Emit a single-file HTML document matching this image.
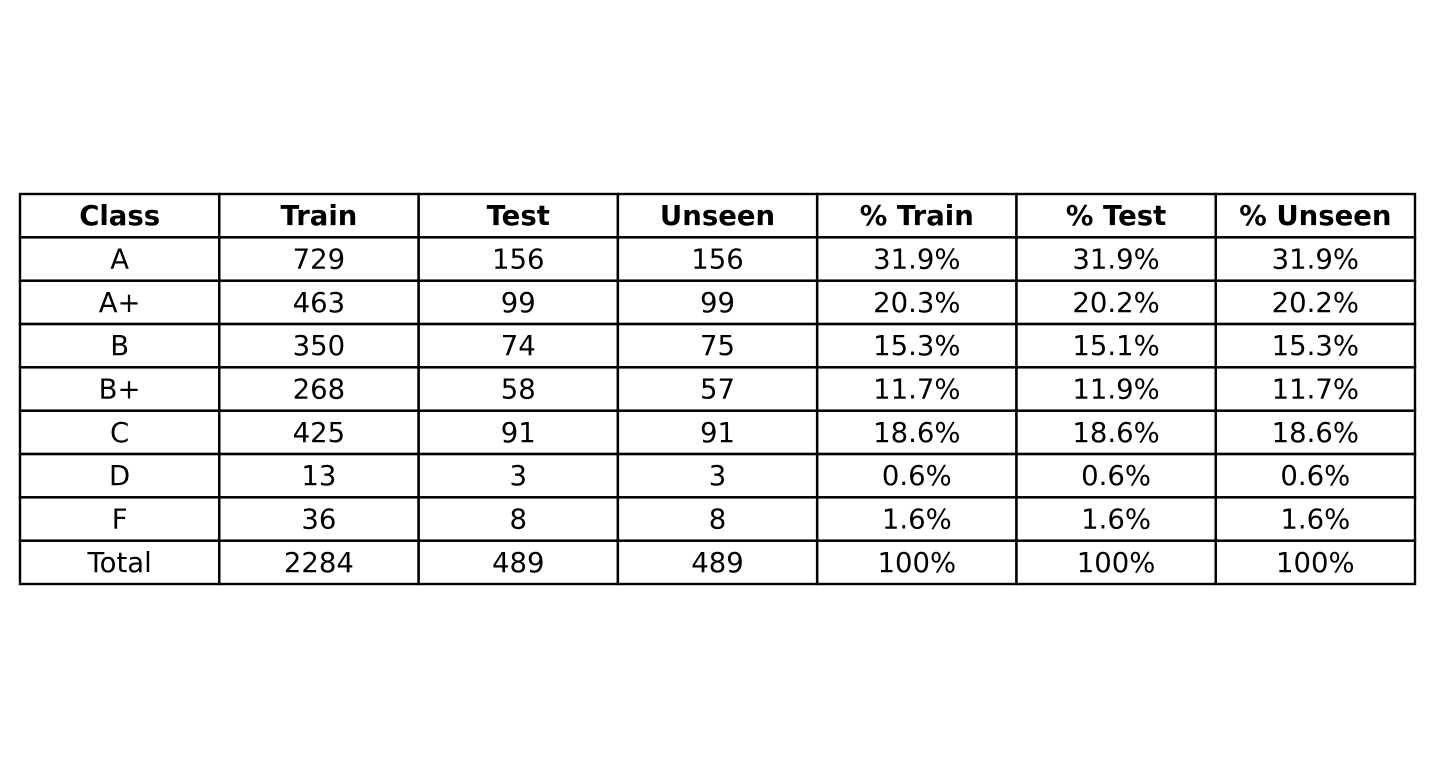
<!DOCTYPE html>
<html><head><meta charset="utf-8"><style>
html,body{margin:0;padding:0;background:#fff;}
svg text{font-family:"DejaVu Sans","Liberation Sans",sans-serif;font-size:27.5px;fill:#000;}
</style></head><body>
<svg id="chart" width="1434" height="779" xmlns="http://www.w3.org/2000/svg"></svg>
<script>
const headers = ["Class","Train","Test","Unseen","% Train","% Test","% Unseen"];
const classes = ["A","A+","B","B+","C","D","F","Total"];
const trainCounts = ["729","463","350","268","425","13","36","2284"];
const testCounts = ["156","99","74","58","91","3","8","489"];
const unseenCounts = ["156","99","75","57","91","3","8","489"];
const trainPct = ["31.9%","20.3%","15.3%","11.7%","18.6%","0.6%","1.6%","100%"];
const testPct = ["31.9%","20.2%","15.1%","11.9%","18.6%","0.6%","1.6%","100%"];
const unseenPct = ["31.9%","20.2%","15.3%","11.7%","18.6%","0.6%","1.6%","100%"];

(function () {
const svg = document.getElementById('chart');
const NS = "http://www.w3.org/2000/svg";
const tblLeft = 20, tblRight = 1415, tblTop = 194, tblBottom = 584;
const cols = headers.length, rows = classes.length + 1;
const cw = (tblRight - tblLeft) / cols, rh = (tblBottom - tblTop) / rows;
const columns = [classes, trainCounts, testCounts, unseenCounts, trainPct, testPct, unseenPct];

for (let r = 0; r < rows; r++) {
  for (let c = 0; c < cols; c++) {
    const x = tblLeft + c * cw, y = tblTop + r * rh;
    const rect = document.createElementNS(NS, 'rect');
    rect.setAttribute('x', x); rect.setAttribute('y', y);
    rect.setAttribute('width', cw); rect.setAttribute('height', rh);
    rect.setAttribute('fill', 'none'); rect.setAttribute('stroke', '#000');
    rect.setAttribute('stroke-width', '2.4');
    
    
    svg.appendChild(rect);
    const t = document.createElementNS(NS, 'text');
    t.setAttribute('x', x + cw / 2);
    t.setAttribute('y', y + rh / 2 + 9.5);
    t.setAttribute('text-anchor', 'middle');
    if (r === 0) {
      t.textContent = headers[c];
      t.setAttribute('font-weight', 'bold');
      
    } else {
      t.textContent = columns[c][r - 1];
      
    }
    
    svg.appendChild(t);
  }
}
})();
</script>
</body></html>
